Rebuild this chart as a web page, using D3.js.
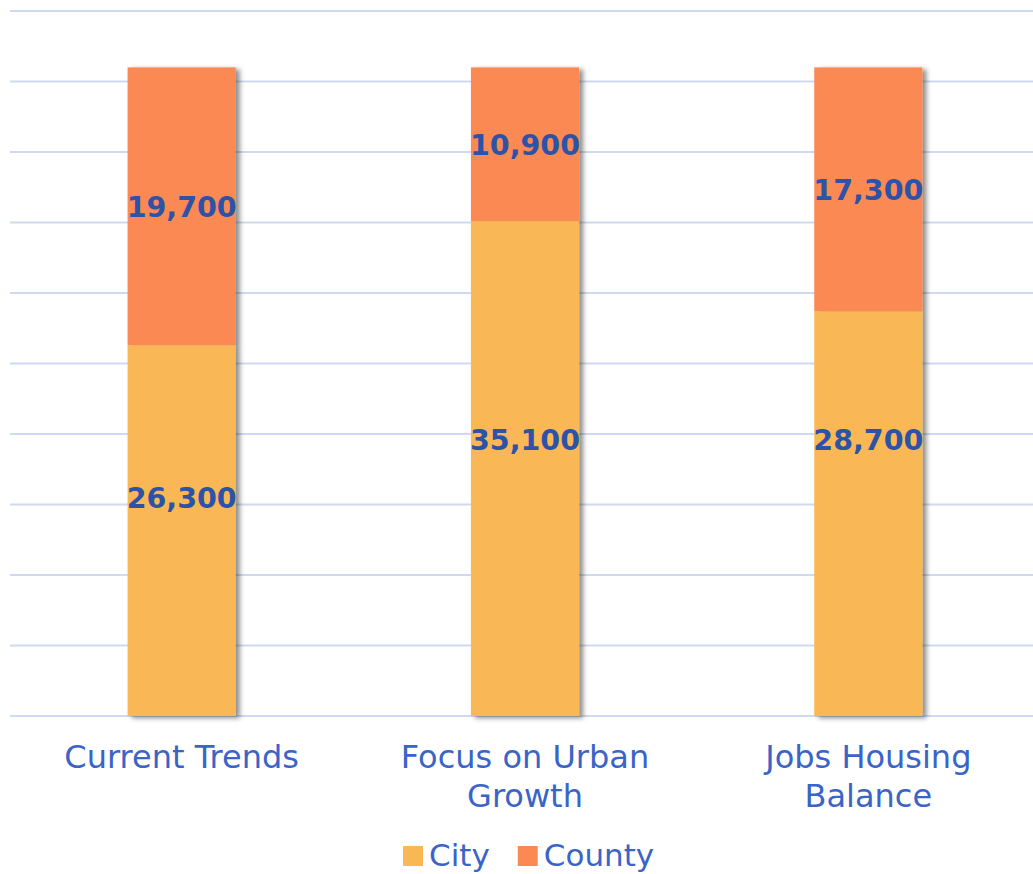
<!DOCTYPE html>
<html>
<head>
<meta charset="utf-8">
<script src="https://cdn.jsdelivr.net/npm/d3@7"></script>
<style>
  body { margin: 0; background: #fff; }
  svg { display: block; font-family: "DejaVu Sans", "Noto Sans", sans-serif; }
</style>
</head>
<body>
<div class="container"></div>
<script>
const WIDTH = 1033;
const HEIGHT = 874;

// data
var categories = ["Current Trends", "Focus on Urban Growth", "Jobs Housing Balance"];
var categoryLines = [["Current Trends"], ["Focus on Urban", "Growth"], ["Jobs Housing", "Balance"]];
var series = ["City", "County"];
var cityValues = [26300, 35100, 28700];
var countyValues = [19700, 10900, 17300];
// where the city label sits (value units), as in the original
var cityLabelAt = [15500, 19600, 19600];
var gridTicks = [0, 5000, 10000, 15000, 20000, 25000, 30000, 35000, 40000, 45000, 50000];

var colors = { City: "#F9B854", County: "#FA8953" };

var translate = function (x, y) {
    return "translate(" + x + "," + y + ")";
};

var _yScale = d3.scaleLinear()
    .domain([0, 50000])
    .range([716, 11]);

var _xScale = d3.scaleBand()
    .domain(categories)
    .range([10, 1040]);

var barWidth = _xScale.bandwidth() * 0.315;

var rows = categories.map(function (c, i) {
    return { cat: c, City: cityValues[i], County: countyValues[i] };
});
var stacked = d3.stack().keys(series)(rows);

var svg = d3.select(".container").append("svg")
    .attr("width", WIDTH)
    .attr("height", HEIGHT);

var defs = svg.append("defs");
var f = defs.append("filter").attr("id", "shadow")
    .attr("x", "-20%").attr("y", "-5%").attr("width", "150%").attr("height", "110%");
f.append("feDropShadow")
    .attr("dx", 4).attr("dy", 2).attr("stdDeviation", 2.5)
    .attr("flood-color", "#000").attr("flood-opacity", 0.45);

// gridlines
svg.append("g").selectAll("line")
    .data(gridTicks)
    .enter().append("line")
    .attr("x1", 10)
    .attr("x2", WIDTH)
    .attr("y1", function (d) { return _yScale(d); })
    .attr("y2", function (d) { return _yScale(d); })
    .attr("stroke", "#CFDAF0")
    .attr("stroke-width", 2);

// bars (shadow on the whole stack)
var bars = svg.append("g");
categories.forEach(function (c, i) {
    var g = bars.append("g").attr("filter", "url(#shadow)");
    stacked.forEach(function (s) {
        var d = s[i];
        g.append("rect")
            .attr("x", _xScale(c) + (_xScale.bandwidth() - barWidth) / 2)
            .attr("width", barWidth)
            .attr("y", _yScale(d[1]))
            .attr("height", _yScale(d[0]) - _yScale(d[1]))
            .attr("fill", colors[s.key]);
    });
});

// value labels
var labels = svg.append("g")
    .attr("fill", "#2C53A8")
    .attr("font-weight", "bold")
    .attr("font-size", 28.5)
    .attr("text-anchor", "middle");

categories.forEach(function (c, i) {
    var cx = _xScale(c) + _xScale.bandwidth() / 2;
    labels.append("text")
        .attr("x", cx)
        .attr("y", _yScale(cityLabelAt[i]))
        .attr("dy", "0.36em")
        .text(d3.format(",")(cityValues[i]));
    labels.append("text")
        .attr("x", cx)
        .attr("y", _yScale(cityValues[i] + countyValues[i] / 2))
        .attr("dy", "0.36em")
        .text(d3.format(",")(countyValues[i]));
});

// category labels
var axis = svg.append("g")
    .attr("fill", "#3A64C8")
    .attr("font-size", 32)
    .attr("text-anchor", "middle");

categories.forEach(function (c, i) {
    var t = axis.append("text")
        .attr("x", _xScale(c) + _xScale.bandwidth() / 2)
        .attr("y", 768);
    categoryLines[i].forEach(function (line, j) {
        t.append("tspan")
            .attr("x", _xScale(c) + _xScale.bandwidth() / 2)
            .attr("dy", j === 0 ? 0 : 39)
            .text(line);
    });
});

// legend
var legend = svg.append("g").attr("transform", translate(403, 846));
var lx = 0;
series.forEach(function (s) {
    var item = legend.append("g").attr("transform", translate(lx, 0));
    item.append("rect")
        .attr("width", 20).attr("height", 20)
        .attr("fill", colors[s]);
    var txt = item.append("text")
        .attr("x", 26).attr("y", 20)
        .attr("font-size", 31)
        .attr("fill", "#3A64C8")
        .text(s);
    lx += 26 + txt.node().getComputedTextLength() + 28;
});
</script>
</body>
</html>
